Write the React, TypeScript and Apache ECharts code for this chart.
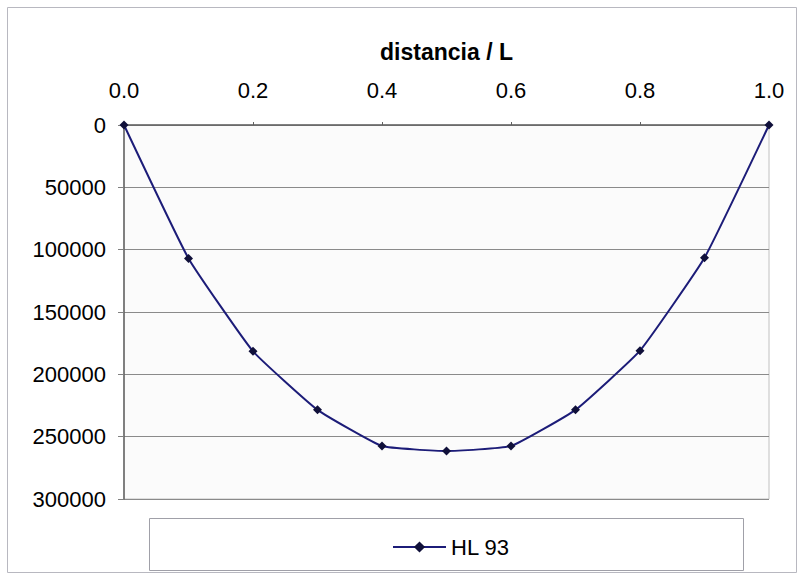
import React, { useEffect, useRef } from "react";
import * as echarts from "echarts";

const xValues = [0.0, 0.1, 0.2, 0.3, 0.4, 0.5, 0.6, 0.7, 0.8, 0.9, 1.0];
const hl93 = [0, 107000, 181500, 228500, 257500, 261500, 257500, 228500, 181000, 106500, 0];
const seriesName = "HL 93";
const xTitle = "distancia / L";

export default function App() {
  const ref = useRef<HTMLDivElement>(null);
  useEffect(() => {
    document.body.style.margin = "0";
    const chart = echarts.init(ref.current!, null, { renderer: "svg" });
    const font = "Liberation Sans, Arial, sans-serif";
    chart.setOption({
      animation: false,
      backgroundColor: "#ffffff",
      graphic: [
        {
          type: "rect",
          z: -10,
          shape: { x: 7.5, y: 7.5, width: 789, height: 565 },
          style: { fill: "#ffffff", stroke: "#b8b8c0", lineWidth: 1 },
        },
        {
          type: "rect",
          z: -5,
          shape: { x: 149.5, y: 518.5, width: 594, height: 52 },
          style: { fill: "#ffffff", stroke: "#a0a0a8", lineWidth: 1 },
        },
      ],
      grid: {
        left: 124,
        top: 125,
        right: 30,
        bottom: 75,
        show: true,
        backgroundColor: "#fbfbfb",
        borderColor: "#c0c0c0",
        borderWidth: 1,
      },
      legend: {
        data: [seriesName],
        left: 387,
        top: 531,
        itemWidth: 53,
        itemHeight: 14,
        itemGap: 6,
        textStyle: { fontFamily: font, fontSize: 22, color: "#000" },
      },
      xAxis: {
        type: "value",
        position: "top",
        min: 0,
        max: 1,
        interval: 0.2,
        name: xTitle,
        nameLocation: "middle",
        nameGap: 62,
        nameTextStyle: { fontFamily: font, fontSize: 23, fontWeight: "bold", color: "#000" },
        axisLine: { show: true, lineStyle: { color: "#606060", width: 1.5 } },
        axisTick: { show: true, inside: false, length: 3, lineStyle: { color: "#606060" } },
        axisLabel: {
          margin: 24,
          fontFamily: font,
          fontSize: 22,
          color: "#000",
          formatter: (v: number) => v.toFixed(1),
        },
        splitLine: { show: false },
      },
      yAxis: {
        type: "value",
        inverse: true,
        min: 0,
        max: 300000,
        interval: 50000,
        axisLine: { show: true, lineStyle: { color: "#606060", width: 1.5 } },
        axisTick: { show: true, length: 6, lineStyle: { color: "#808080" } },
        axisLabel: {
          margin: 18,
          fontFamily: font,
          fontSize: 22,
          color: "#000",
          formatter: (v: number) => String(v),
        },
        splitLine: { show: true, lineStyle: { color: "#8a8a8a", width: 1.2 } },
      },
      series: [
        {
          name: seriesName,
          type: "line",
          data: xValues.map((x, i) => [x, hl93[i]]),
          smooth: 0.12,
          symbol: "diamond",
          symbolSize: 9,
          lineStyle: { color: "#1c1c78", width: 2 },
          itemStyle: { color: "#10103a" },
        },
      ],
    });
    return () => chart.dispose();
  }, []);
  return <div ref={ref} style={{ width: 799, height: 574 }} />;
}
